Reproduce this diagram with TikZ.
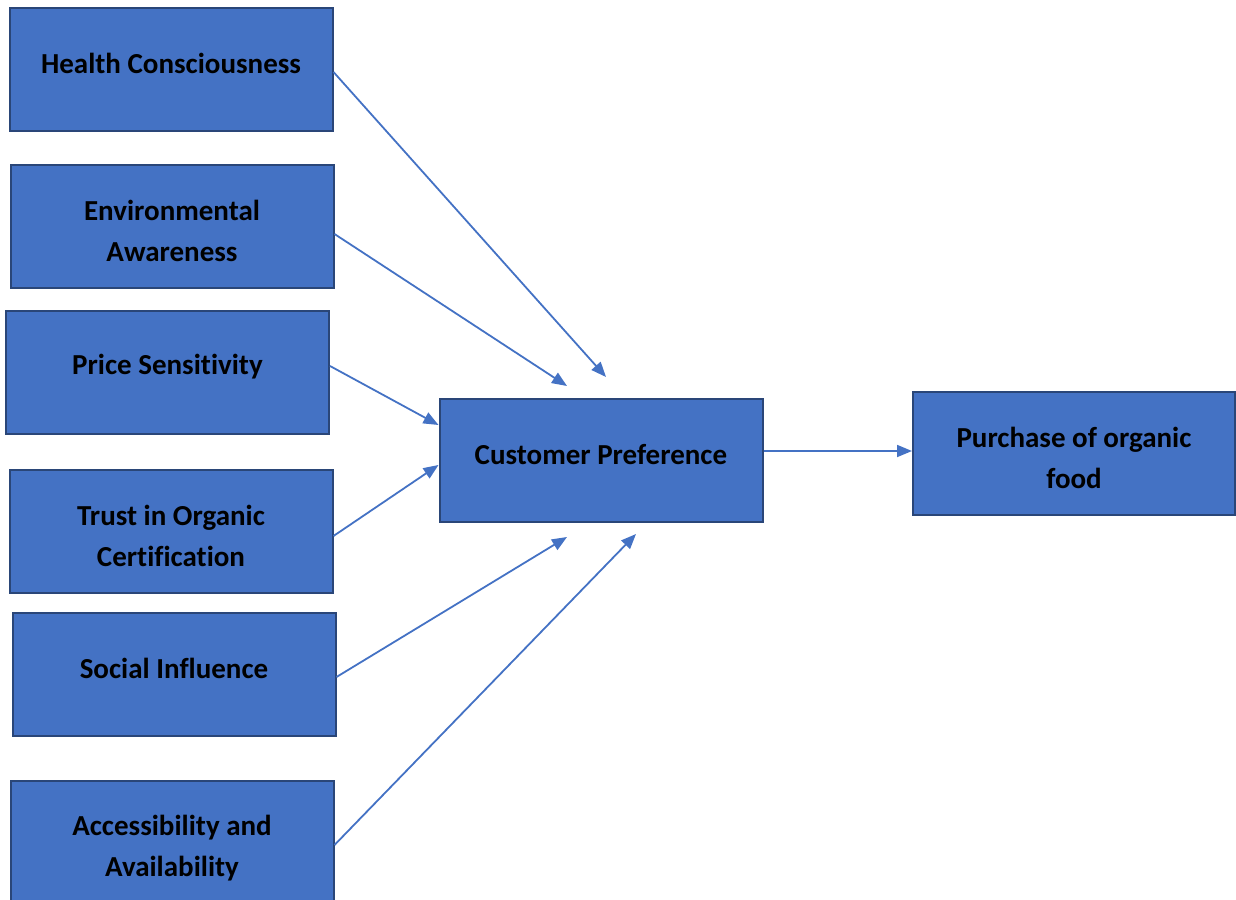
\documentclass[tikz,border=0pt]{standalone}
\usepackage{fontspec}
\setmainfont{Carlito}[Ligatures=NoCommon]
\usetikzlibrary{arrows.meta}
\definecolor{boxfill}{HTML}{4472C4}
\definecolor{boxline}{HTML}{2A4678}
\definecolor{arrowblue}{HTML}{4472C4}
\tikzset{
  factor/.style={draw=boxline, line width=2pt, fill=boxfill, inner sep=0pt,
    minimum width=323pt, minimum height=123pt},
  lbl/.style={font=\fontsize{29}{41}\selectfont\bfseries, align=center, text=black, inner sep=0pt},
  link/.style={draw=arrowblue, line width=1.8pt, -{Triangle[length=15pt,width=12pt]}}
}
\begin{document}
\begin{tikzpicture}[x=1pt, y=-1pt]
\useasboundingbox (0,0) rectangle (1236,899);
% factor boxes
\node[factor] (hc) at (171,69.5) {};
\node[factor] (ea) at (172,226) {};
\node[factor] (ps) at (167.5,372.5) {};
\node[factor] (tc) at (171,531) {};
\node[factor] (si) at (174,674) {};
\node[factor] (aa) at (172,842) {};
\node[factor] (cp) at (601,460.5) {};
\node[factor, minimum width=322pt] (pf) at (1074,453) {};
% box labels
\node[lbl, yshift=6pt] (hct) at (hc) {Health Consciousness};
\node[lbl, yshift=-5pt] (eat) at (ea) {Environmental\\Awareness};
\node[lbl, yshift=6pt] (pst) at (ps) {Price Sensitivity};
\node[lbl, yshift=-5pt] (tct) at (tc) {Trust in Organic\\Certification};
\node[lbl, yshift=6pt] (sit) at (si) {Social Influence};
\node[lbl] (aat) at (172,848) {Accessibility and\\Availability};
\node[lbl, yshift=6pt] (cpt) at (cp) {Customer Preference};
\node[lbl, yshift=-5pt] (pft) at (pf) {Purchase of organic\\food};
% arrow tips that stop short of the central box
\coordinate (t1) at (606,377);
\coordinate (t2) at (567,386);
\coordinate (t5) at (567,537);
\coordinate (t6) at (636,534);
% connectors
\draw[link] (hc.east |- 0,72) -- (t1);
\draw[link] (ea.east |- 0,234) -- (t2);
\draw[link] (ps.east |- 0,366) -- (cp.west |- 0,425);
\draw[link] (tc.east |- 0,536) -- (cp.west |- 0,465);
\draw[link] (si.east |- 0,677) -- (t5);
\draw[link] (aa.east |- 0,845) -- (t6);
\draw[link] (cp.east |- 0,451) -- (pf.west |- 0,451);
\end{tikzpicture}
\end{document}
